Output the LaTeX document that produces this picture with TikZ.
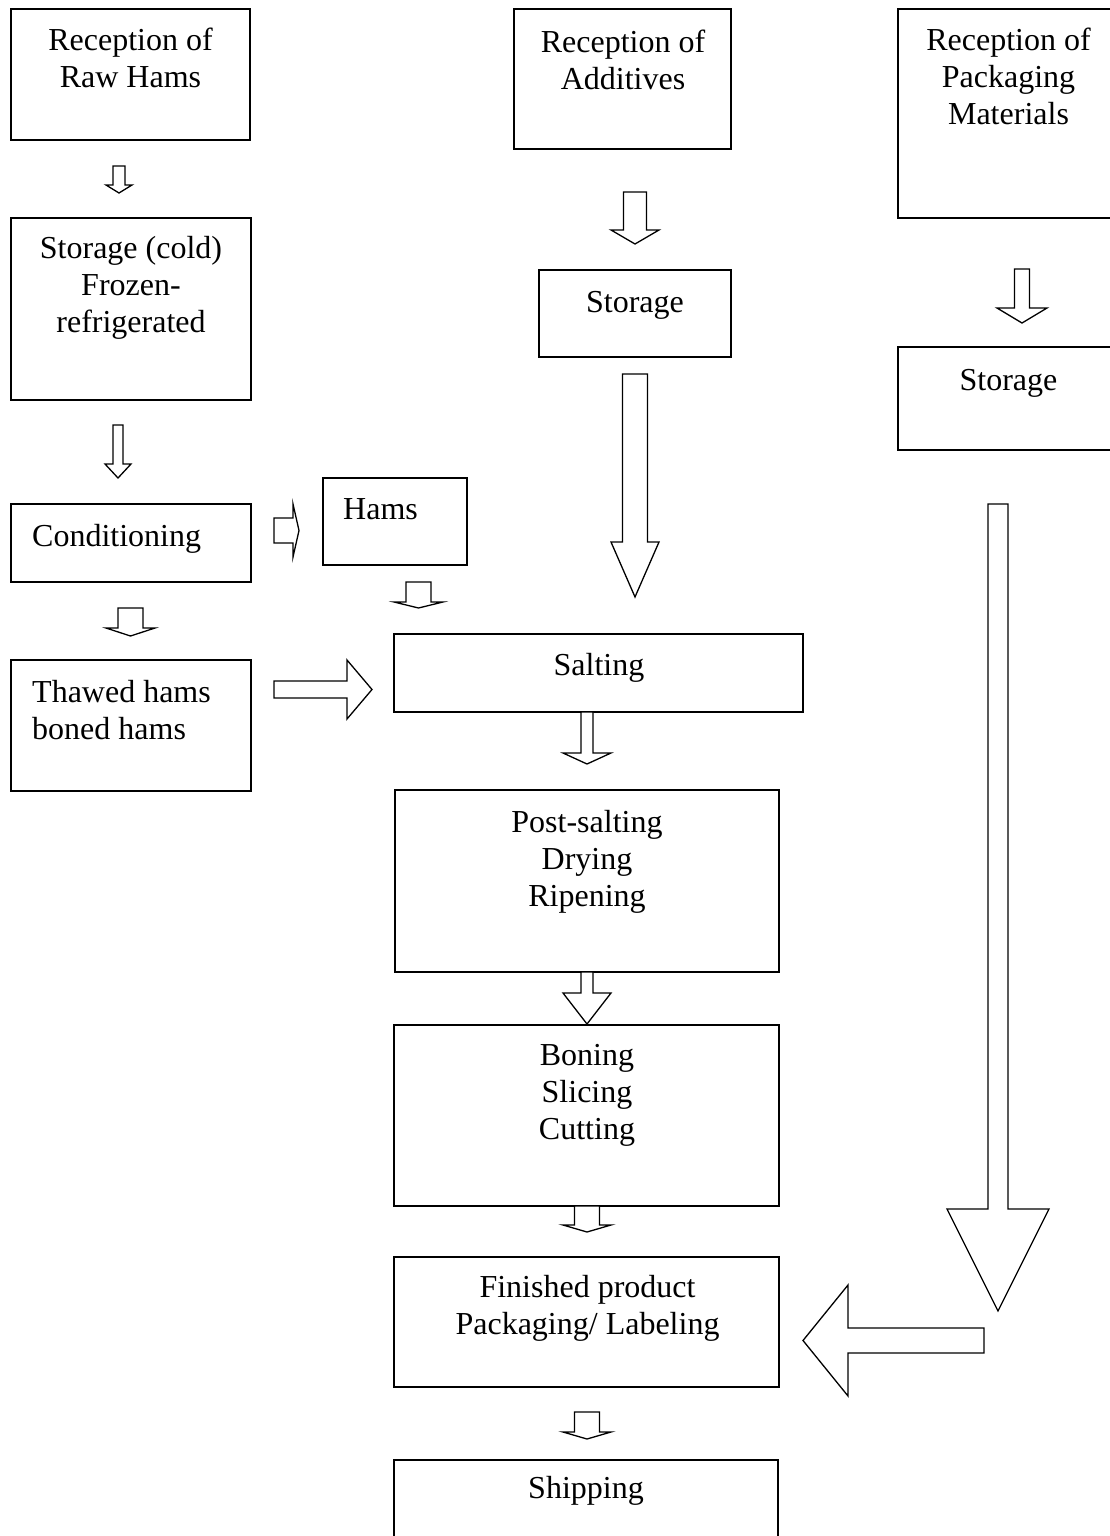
\documentclass[tikz,border=0pt]{standalone}
\usepackage{fontspec}
\setmainfont{Liberation Serif}
\newcommand\fsz{\fontsize{32}{37}\selectfont}
% block arrows: down (cx, ytop, ytip, shaft half, head half, head length)
\newcommand\arrDown[6]{\draw[blk] ({#1-#4},#2) -- ({#1+#4},#2) -- ({#1+#4},{#3-#6}) -- ({#1+#5},{#3-#6}) -- (#1,#3) -- ({#1-#5},{#3-#6}) -- ({#1-#4},{#3-#6}) -- cycle;}
% right (cy, xstart, xtip, shaft half, head half, head length)
\newcommand\arrRight[6]{\draw[blk] (#2,{#1-#4}) -- ({#3-#6},{#1-#4}) -- ({#3-#6},{#1-#5}) -- (#3,#1) -- ({#3-#6},{#1+#5}) -- ({#3-#6},{#1+#4}) -- (#2,{#1+#4}) -- cycle;}
% left (cy, xstart, xtip, shaft half, head half, head length)
\newcommand\arrLeft[6]{\draw[blk] (#2,{#1-#4}) -- ({#3+#6},{#1-#4}) -- ({#3+#6},{#1-#5}) -- (#3,#1) -- ({#3+#6},{#1+#5}) -- ({#3+#6},{#1+#4}) -- (#2,{#1+#4}) -- cycle;}
% box (name, x1, y1, x2, y2)
\newcommand\bx[5]{\node[box, minimum width={#4-#2}, minimum height={#5-#3}] (#1) at ({(#2+#4)/2},{(#3+#5)/2}) {};}
\begin{document}
\begin{tikzpicture}[x=1pt,y=-1pt,
  box/.style={draw, line width=1.5pt, inner sep=0pt, outer sep=0pt, fill=white},
  blk/.style={draw, line width=1.3pt, fill=white, line join=miter},
  txt/.style={inner sep=0pt, anchor=north, align=center, font=\fsz},
  ltxt/.style={inner sep=0pt, anchor=north west, align=left, font=\fsz}]
\useasboundingbox (0,0) rectangle (1110,1536);
\clip (0,0) rectangle (1110,1536);
\fill[white] (0,0) rectangle (1110,1536);

% left column
\bx{raw}{11}{9}{250}{140}
\node[txt] (trraw) at (130.5,{50-25.9}) {\strut Reception of\\Raw Hams};
\bx{cold}{11}{218}{251}{400}
\node[txt] (tcold) at (131,{258-25.9}) {\strut Storage (cold)\\Frozen-\\refrigerated};
\bx{cond}{11}{504}{251}{582}
\node[ltxt] (tcond) at (32,{546-25.9}) {\strut Conditioning};
\bx{thaw}{11}{660}{251}{791}
\node[ltxt] (tthaw) at (32,{702-25.9}) {\strut Thawed hams\\boned hams};
\bx{hams}{323}{478}{467}{565}
\node[ltxt] (thams) at (343,{519-25.9}) {\strut Hams};

% centre column
\bx{salt}{394}{634}{803}{712}
\node[txt] (tsalt) at (599,{675-25.9}) {\strut Salting};
\bx{post}{395}{790}{779}{972}
\node[txt] (tpost) at (587,{832-25.9}) {\strut Post-salting\\Drying\\Ripening};
\bx{bone}{394}{1025}{779}{1206}
\node[txt] (tbone) at (587,{1065-25.9}) {\strut Boning\\Slicing\\Cutting};
\bx{fin}{394}{1257}{779}{1387}
\node[txt] (tfin) at (587.5,{1297-25.9}) {\strut Finished product\\Packaging/ Labeling};
\bx{ship}{394}{1460}{778}{1600}
\node[txt] (tship) at (586,{1498-25.9}) {\strut Shipping};

\bx{add}{514}{9}{731}{149}
\node[txt] (tadd) at (623,{52-25.9}) {\strut Reception of\\Additives};
\bx{stoA}{539}{270}{731}{357}
\node[txt] (tstoA) at (635,{312-25.9}) {\strut Storage};

% right column
\bx{pack}{898}{9}{1130}{218}
\node[txt] (tpack) at (1008.5,{50-25.9}) {\strut Reception of\\Packaging\\Materials};
\bx{stoP}{898}{347}{1130}{450}
\node[txt] (tstoP) at (1008.5,{390-25.9}) {\strut Storage};

% arrows
\arrDown{119}{166}{193}{6}{13}{8}
\arrDown{118}{425}{478}{5}{13}{14}
\arrDown{130.5}{608}{636}{12.5}{24.5}{8}
\arrRight{530.5}{274}{299}{12.5}{26.5}{6}
\arrDown{418.5}{582}{608}{12.5}{24.5}{6}
\arrRight{689.5}{274}{372}{8.5}{29.5}{25}
\arrDown{635}{192}{244}{11.5}{24}{14}
\arrDown{635}{374}{597}{12.5}{24}{55}
\arrDown{587}{712}{764}{6}{24}{11}
\arrDown{587}{972}{1024}{6}{24}{31}
\arrDown{587}{1206}{1232}{12.5}{24}{7}
\arrDown{587}{1412}{1439}{12.5}{24}{7}
\arrDown{1022}{269}{323}{7.5}{25}{15}
\arrDown{998}{504}{1311}{10}{51}{102}
\arrLeft{1340.5}{984}{803}{12.5}{55.5}{45}
\end{tikzpicture}
\end{document}
